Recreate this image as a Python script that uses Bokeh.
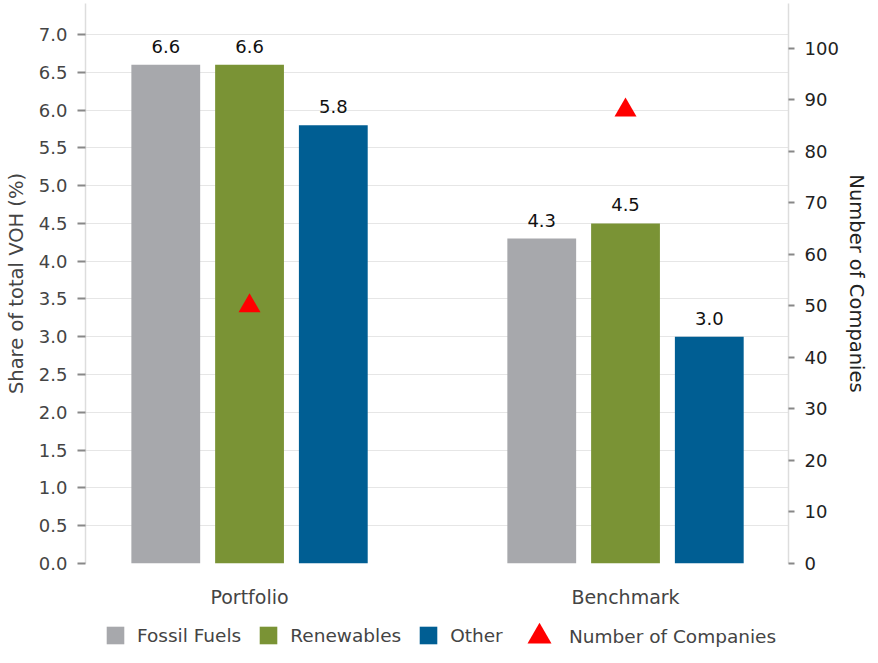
from bokeh.plotting import figure
from bokeh.layouts import column
from bokeh.models import (ColumnDataSource, Range1d, LinearAxis, FixedTicker,
                          NumeralTickFormatter, LabelSet, Legend, LegendItem)
from bokeh.core.properties import value
from bokeh.transform import dodge
from bokeh.embed import file_html
from bokeh.resources import INLINE

# ---- data ----
groups = ["Portfolio", "Benchmark"]
series_names = ["Fossil Fuels", "Renewables", "Other"]
fossil_fuels = [6.6, 4.3]
renewables = [6.6, 4.5]
other = [5.8, 3.0]
num_companies = [50, 88]
marker_name = "Number of Companies"
series_colors = ["#A7A8AC", "#7A9335", "#005E93"]
marker_color = "#FF0000"
share_ticks = [0.0, 0.5, 1.0, 1.5, 2.0, 2.5, 3.0, 3.5, 4.0, 4.5, 5.0, 5.5, 6.0, 6.5, 7.0]
count_ticks = [0, 10, 20, 30, 40, 50, 60, 70, 80, 90, 100]

FONT = "DejaVu Sans"
W = 870
xs = list(range(len(groups)))
keys = ["fossil", "renew", "other"]
data = dict(x=xs, fossil=fossil_fuels, renew=renewables, other=other, companies=num_companies)
for k in keys:
    data[k + "_lbl"] = [f"{v:.1f}" for v in data[k]]
src = ColumnDataSource(data)

p = figure(width=W, height=612, x_range=Range1d(-0.4363, 1.4335), y_range=Range1d(0, 7.41),
           output_backend="svg", toolbar_location=None,
           min_border_left=85, min_border_right=0, min_border_top=3, min_border_bottom=49)
p.extra_y_ranges = {"count": Range1d(0, 108.7)}
p.outline_line_color = None
p.background_fill_color = "white"
p.border_fill_color = "white"

offsets = [-0.2228, 0.0, 0.2228]
bar_w = 0.183
for k, off, col in zip(keys, offsets, series_colors):
    p.vbar(x=dodge("x", off), top=k, bottom=0, width=bar_w, source=src,
           fill_color=col, line_color=None)
    p.add_layout(LabelSet(x=dodge("x", off), y=k, text=k + "_lbl", source=src,
                          text_align="center", text_baseline="bottom", y_offset=12,
                          text_font=value(FONT), text_font_size="18px",
                          text_color="#111111"))

p.scatter(x="x", y="companies", source=src, y_range_name="count", marker="triangle",
          size=22, fill_color=marker_color, line_color=None)

# ---- left axis ----
ya = p.yaxis[0]
ya.ticker = FixedTicker(ticks=share_ticks)
ya.formatter = NumeralTickFormatter(format="0.0")
ya.axis_label = "Share of total VOH (%)"
ya.axis_label_text_font = FONT
ya.axis_label_text_font_size = "19.5px"
ya.axis_label_text_font_style = "normal"
ya.axis_label_text_color = "#444444"
ya.axis_label_standoff = 8
ya.major_label_text_font = FONT
ya.major_label_text_font_size = "18px"
ya.major_label_text_color = "#444444"
ya.major_label_standoff = 10
ya.axis_line_color = "#dddddd"
ya.axis_line_width = 1.5
ya.major_tick_line_color = "#888888"
ya.major_tick_line_width = 2
ya.major_tick_out = 8
ya.major_tick_in = 0
ya.minor_tick_line_color = None

# ---- right axis ----
ra = LinearAxis(y_range_name="count", ticker=FixedTicker(ticks=count_ticks),
                axis_label="Number of Companies")
ra.axis_label_text_font = FONT
ra.axis_label_text_font_size = "19.5px"
ra.axis_label_text_font_style = "normal"
ra.axis_label_text_color = "#222222"
ra.axis_label_standoff = 3
ra.major_label_text_font = FONT
ra.major_label_text_font_size = "18px"
ra.major_label_text_color = "#222222"
ra.major_label_standoff = 10
ra.axis_line_color = "#dddddd"
ra.axis_line_width = 1.5
ra.major_tick_line_color = "#888888"
ra.major_tick_line_width = 2
ra.major_tick_out = 6
ra.major_tick_in = 0
ra.minor_tick_line_color = None
p.add_layout(ra, "right")

# ---- category axis ----
xa = p.xaxis[0]
xa.ticker = FixedTicker(ticks=xs)
xa.major_label_overrides = {i: g for i, g in zip(xs, groups)}
xa.axis_line_color = None
xa.major_tick_line_color = None
xa.minor_tick_line_color = None
xa.major_tick_out = 0
xa.major_tick_in = 0
xa.major_label_standoff = 22
xa.major_label_text_font = FONT
xa.major_label_text_font_size = "19px"
xa.major_label_text_color = "#444444"

# ---- grid ----
p.xgrid.visible = False
p.ygrid.ticker = FixedTicker(ticks=share_ticks)
p.ygrid.grid_line_color = "#e6e6e6"
p.ygrid.grid_line_width = 1

# ---- legend strip (same series, viewed far outside their range; only the keys show) ----
lf = figure(width=W, height=35, x_range=Range1d(1000, 1001), y_range=Range1d(1000, 1001),
            x_axis_type=None, y_axis_type=None, output_backend="svg", toolbar_location=None,
            min_border=0)
lf.outline_line_color = None
lf.grid.visible = False
lf.background_fill_color = "white"
lf.border_fill_color = "white"

bar_keys = [lf.vbar(x=dodge("x", off), top=k, bottom=0, width=bar_w, source=src,
                    fill_color=c, line_color=None)
            for k, off, c in zip(keys, offsets, series_colors)]
tri_key = lf.scatter(x="x", y="companies", source=src, marker="triangle",
                     fill_color=marker_color, line_color=None)

common = dict(orientation="horizontal", padding=0, margin=0,
              label_text_font=FONT, label_text_font_size="18.5px", label_text_color="#444444",
              background_fill_alpha=0, border_line_alpha=0)
leg1 = Legend(items=[LegendItem(label=n, renderers=[r]) for n, r in zip(series_names, bar_keys)],
              location=(19, 1), glyph_width=22, glyph_height=22, label_standoff=11,
              spacing=16, **common)
leg2 = Legend(items=[LegendItem(label=marker_name, renderers=[tri_key])],
              location=(424, -19), glyph_width=60, glyph_height=60, label_standoff=0,
              **common)
lf.add_layout(leg1)
lf.add_layout(leg2)

layout = column(p, lf, spacing=0)
open("out.html", "w").write(file_html(layout, INLINE))
